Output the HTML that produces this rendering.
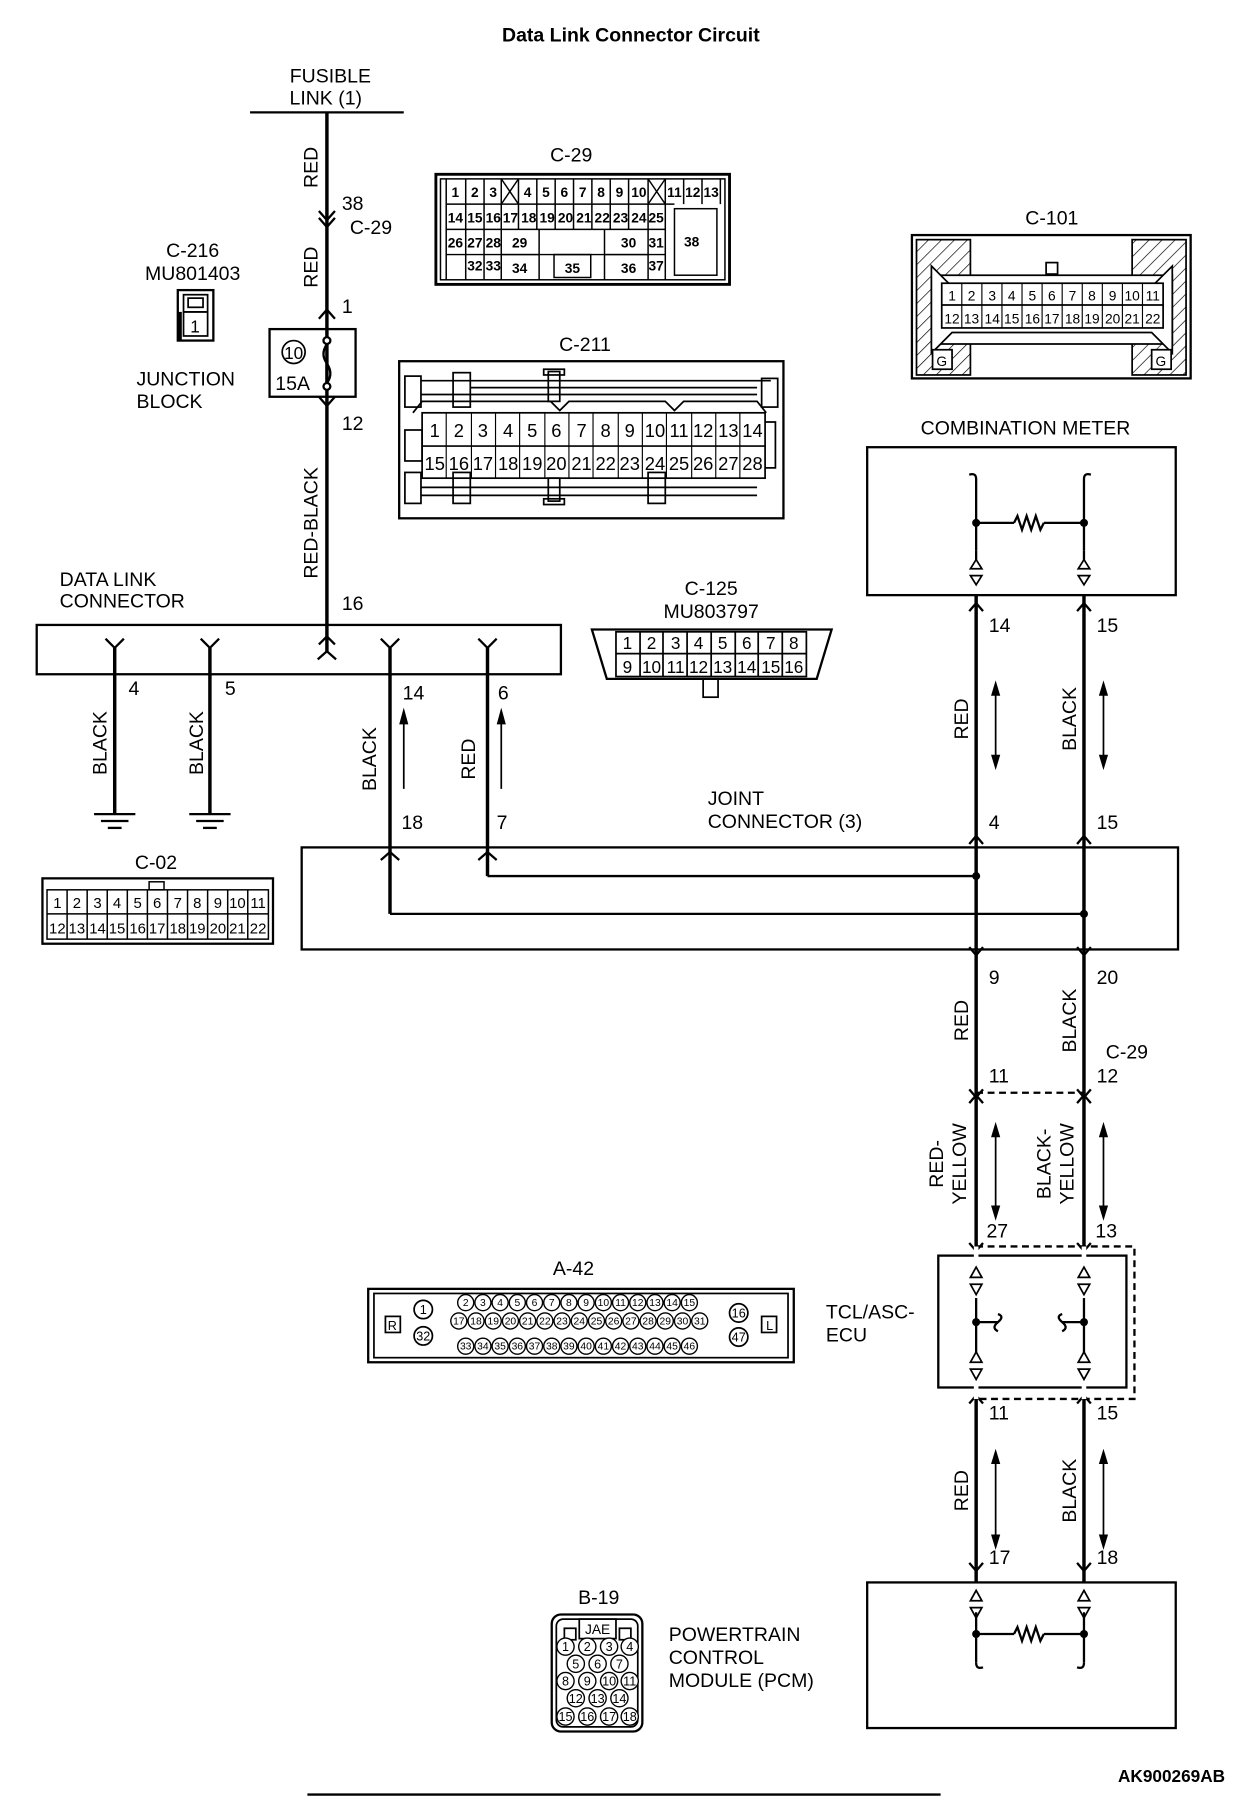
<!DOCTYPE html>
<html><head><meta charset="utf-8"><style>
html,body{margin:0;padding:0;background:#fff}
svg{display:block}
text{font-family:"Liberation Sans",sans-serif;fill:#000}
</style></head><body>
<svg width="1248" height="1798" viewBox="0 0 1088 1568" preserveAspectRatio="none" xmlns="http://www.w3.org/2000/svg">
<defs>
<pattern id="h" width="8" height="8" patternUnits="userSpaceOnUse" patternTransform="rotate(45)"><line x1="0" y1="0" x2="0" y2="8" stroke="#000" stroke-width="1.2"/></pattern>
</defs>
<g font-size="17">
<text x="550" y="36" text-anchor="middle" font-weight="bold" font-size="17">Data Link Connector Circuit</text>
<text x="288" y="72" text-anchor="middle">FUSIBLE</text>
<text x="284" y="91" text-anchor="middle">LINK (1)</text>
</g>
<g stroke="#000" fill="none" stroke-width="2">
<line x1="218" y1="98" x2="352" y2="98"/>
<line x1="285" y1="98" x2="285" y2="568" stroke-width="3"/>
<polyline points="278,184 285,192 292,184"/>
<polyline points="278,190 285,198 292,190"/>
<polyline points="278,278 285,270 292,278"/>
<polyline points="278,346 285,354 292,346"/>
<rect x="235" y="287" width="75" height="59"/>
<polyline points="278,562 285,555 292,562"/>
</g>
<!-- fuse symbol -->
<g stroke="#000" stroke-width="2" fill="#fff">
<circle cx="285" cy="297" r="3"/><circle cx="285" cy="337" r="3"/>
<path d="M285 300 q-6 9 0 17 q6 9 0 17" fill="none"/>
<circle cx="256" cy="307" r="10" fill="none" stroke-width="1.5"/>
</g>
<g font-size="17">
<text x="256" y="313" text-anchor="middle" font-size="15">10</text>
<text x="240" y="340" font-size="17">15A</text>
<text transform="translate(277,146) rotate(-90)" text-anchor="middle">RED</text>
<text x="298" y="183">38</text><text x="305" y="204">C-29</text>
<text transform="translate(277,233) rotate(-90)" text-anchor="middle">RED</text>
<text x="298" y="273">1</text>
<text x="298" y="375">12</text>
<text transform="translate(277,456) rotate(-90)" text-anchor="middle">RED-BLACK</text>
<text x="298" y="532">16</text>
<text x="168" y="224" text-anchor="middle">C-216</text>
<text x="168" y="244" text-anchor="middle">MU801403</text>
<text x="119" y="336">JUNCTION</text>
<text x="119" y="356">BLOCK</text>
</g>
<!-- C-216 icon -->
<g stroke="#000" fill="none" stroke-width="2">
<rect x="155" y="253" width="31" height="44"/>
<rect x="160" y="257" width="21" height="15" stroke-width="1.5"/>
<rect x="164" y="260" width="13" height="8" stroke-width="1.5"/>
<rect x="160" y="272" width="21" height="21" stroke-width="1.5"/>
<line x1="157" y1="272" x2="157" y2="297" stroke-width="3"/>
</g>
<text x="170" y="290" text-anchor="middle" font-size="15">1</text>

<!-- C-29 connector -->
<text x="498" y="141" text-anchor="middle" font-size="17">C-29</text>
<g stroke="#000" fill="none" stroke-width="1.3">
<rect x="380" y="152" width="256" height="96" stroke-width="2.5"/>
<rect x="384" y="156" width="248" height="88"/>
<line x1="389" y1="156" x2="389" y2="244"/>
<line x1="389" y1="178" x2="588" y2="178"/>
<line x1="389" y1="200" x2="580" y2="200"/>
<line x1="389" y1="222" x2="580" y2="222"/>
<line x1="406" y1="156" x2="406" y2="244"/><line x1="422" y1="156" x2="422" y2="244"/><line x1="437" y1="156" x2="437" y2="244"/>
<line x1="437" y1="156" x2="452" y2="178"/><line x1="452" y1="156" x2="437" y2="178"/>
<line x1="452" y1="156" x2="452" y2="200"/>
<line x1="468" y1="156" x2="468" y2="200"/><line x1="484" y1="156" x2="484" y2="200"/><line x1="500" y1="156" x2="500" y2="200"/><line x1="516" y1="156" x2="516" y2="200"/><line x1="532" y1="156" x2="532" y2="200"/><line x1="548" y1="156" x2="548" y2="200"/>
<line x1="565" y1="156" x2="565" y2="244"/>
<line x1="565" y1="156" x2="580" y2="178"/><line x1="580" y1="156" x2="565" y2="178"/>
<line x1="580" y1="156" x2="580" y2="244"/>
<line x1="596" y1="156" x2="596" y2="178"/><line x1="612" y1="156" x2="612" y2="178"/><line x1="628" y1="156" x2="628" y2="178"/>
<line x1="470" y1="200" x2="470" y2="244"/><line x1="527" y1="200" x2="527" y2="244"/>
<rect x="483" y="222" width="32" height="20"/>
<line x1="437" y1="222" x2="470" y2="222"/><line x1="527" y1="222" x2="565" y2="222"/>
<rect x="588" y="182" width="37" height="58"/>
</g>
<g font-size="12" font-weight="bold" text-anchor="middle">
<text x="397" y="172">1</text><text x="414" y="172">2</text><text x="430" y="172">3</text>
<text x="460" y="172">4</text><text x="476" y="172">5</text><text x="492" y="172">6</text><text x="508" y="172">7</text><text x="524" y="172">8</text><text x="540" y="172">9</text><text x="557" y="172">10</text>
<text x="588" y="172">11</text><text x="604" y="172">12</text><text x="620" y="172">13</text>
<text x="397" y="194">14</text><text x="414" y="194">15</text><text x="430" y="194">16</text>
<text x="445" y="194">17</text><text x="461" y="194">18</text><text x="477" y="194">19</text><text x="493" y="194">20</text><text x="509" y="194">21</text><text x="525" y="194">22</text><text x="541" y="194">23</text><text x="557" y="194">24</text><text x="572" y="194">25</text>
<text x="397" y="216">26</text><text x="414" y="216">27</text><text x="430" y="216">28</text><text x="453" y="216">29</text><text x="548" y="216">30</text><text x="572" y="216">31</text>
<text x="414" y="236">32</text><text x="430" y="236">33</text><text x="453" y="238">34</text><text x="499" y="238">35</text><text x="548" y="238">36</text><text x="572" y="236">37</text>
<text x="603" y="215">38</text>
</g>

<!-- C-101 -->
<text x="917" y="196" text-anchor="middle" font-size="17">C-101</text>
<g stroke="#000" stroke-width="1.5">
<rect x="795" y="205" width="243" height="125" fill="none" stroke-width="2"/>
<rect x="799" y="209" width="47" height="118" fill="url(#h)"/>
<rect x="987" y="209" width="47" height="118" fill="url(#h)"/>
<polygon points="812,240 1022,240 1022,300 812,300" fill="#fff"/>
<polygon points="812,232 830,250 1004,250 1022,232 1022,308 1004,290 830,290 812,308" fill="#fff"/>
<rect x="912" y="229" width="10" height="10" fill="#fff"/>
<rect x="821" y="247" width="193" height="39" fill="#fff"/>
<line x1="821" y1="266" x2="1014" y2="266"/>
<rect x="813" y="305" width="17" height="17" fill="#fff"/>
<rect x="1004" y="305" width="17" height="17" fill="#fff"/>
</g>
<g stroke="#000" stroke-width="1">
<line x1="838.5" y1="247" x2="838.5" y2="286"/><line x1="856" y1="247" x2="856" y2="286"/><line x1="873.5" y1="247" x2="873.5" y2="286"/><line x1="891" y1="247" x2="891" y2="286"/><line x1="908.5" y1="247" x2="908.5" y2="286"/><line x1="926" y1="247" x2="926" y2="286"/><line x1="943.5" y1="247" x2="943.5" y2="286"/><line x1="961" y1="247" x2="961" y2="286"/><line x1="978.5" y1="247" x2="978.5" y2="286"/><line x1="996" y1="247" x2="996" y2="286"/>
</g>
<g font-size="12" text-anchor="middle">
<text x="830" y="262">1</text><text x="847" y="262">2</text><text x="865" y="262">3</text><text x="882" y="262">4</text><text x="900" y="262">5</text><text x="917" y="262">6</text><text x="935" y="262">7</text><text x="952" y="262">8</text><text x="970" y="262">9</text><text x="987" y="262">10</text><text x="1005" y="262">11</text>
<text x="830" y="282">12</text><text x="847" y="282">13</text><text x="865" y="282">14</text><text x="882" y="282">15</text><text x="900" y="282">16</text><text x="917" y="282">17</text><text x="935" y="282">18</text><text x="952" y="282">19</text><text x="970" y="282">20</text><text x="987" y="282">21</text><text x="1005" y="282">22</text>
<text x="821" y="319">G</text><text x="1012" y="319">G</text>
</g>

<!-- C-211 -->
<text x="510" y="306" text-anchor="middle" font-size="17">C-211</text>
<g stroke="#000" stroke-width="1.5" fill="none">
<rect x="348" y="315" width="335" height="137" stroke-width="2"/>
<rect x="353" y="328" width="14" height="27"/><rect x="395" y="325" width="15" height="30"/>
<line x1="367" y1="332" x2="672" y2="332"/><line x1="367" y1="344" x2="660" y2="344"/><line x1="410" y1="338" x2="660" y2="338"/>
<polyline points="360,360 368,350 480,350 488,358 496,350 580,350 588,358 596,350 660,350 668,360"/>
<rect x="478" y="324" width="10" height="26"/><rect x="474" y="322" width="18" height="5"/>
<rect x="664" y="330" width="14" height="25"/>
<rect x="368" y="360" width="299" height="57" fill="#fff"/>
<line x1="368" y1="389" x2="667" y2="389"/>
<rect x="353" y="375" width="15" height="27"/>
<polyline points="667,368 676,368 676,408 667,408"/>
<rect x="353" y="412" width="14" height="27"/><rect x="395" y="412" width="15" height="27"/><rect x="565" y="412" width="15" height="27"/>
<line x1="367" y1="425" x2="660" y2="425"/><line x1="367" y1="432" x2="660" y2="432"/>
<rect x="478" y="417" width="10" height="20"/><rect x="474" y="435" width="18" height="5"/>
</g>
<g stroke="#000" stroke-width="1">
<line x1="389" y1="360" x2="389" y2="417"/><line x1="411" y1="360" x2="411" y2="417"/><line x1="432" y1="360" x2="432" y2="417"/><line x1="453" y1="360" x2="453" y2="417"/><line x1="475" y1="360" x2="475" y2="417"/><line x1="496" y1="360" x2="496" y2="417"/><line x1="517" y1="360" x2="517" y2="417"/><line x1="539" y1="360" x2="539" y2="417"/><line x1="560" y1="360" x2="560" y2="417"/><line x1="581" y1="360" x2="581" y2="417"/><line x1="603" y1="360" x2="603" y2="417"/><line x1="624" y1="360" x2="624" y2="417"/><line x1="645" y1="360" x2="645" y2="417"/>
</g>
<g font-size="16" text-anchor="middle">
<text x="379" y="381">1</text><text x="400" y="381">2</text><text x="421" y="381">3</text><text x="443" y="381">4</text><text x="464" y="381">5</text><text x="485" y="381">6</text><text x="507" y="381">7</text><text x="528" y="381">8</text><text x="549" y="381">9</text><text x="571" y="381">10</text><text x="592" y="381">11</text><text x="613" y="381">12</text><text x="635" y="381">13</text><text x="656" y="381">14</text>
<text x="379" y="410">15</text><text x="400" y="410">16</text><text x="421" y="410">17</text><text x="443" y="410">18</text><text x="464" y="410">19</text><text x="485" y="410">20</text><text x="507" y="410">21</text><text x="528" y="410">22</text><text x="549" y="410">23</text><text x="571" y="410">24</text><text x="592" y="410">25</text><text x="613" y="410">26</text><text x="635" y="410">27</text><text x="656" y="410">28</text>
</g>

<!-- Combination meter -->
<text x="894" y="379" text-anchor="middle" font-size="17">COMBINATION METER</text>
<g stroke="#000" fill="none" stroke-width="2">
<rect x="756" y="390" width="269" height="129"/>
<path d="M845 414 q6 -2 6 4 V480"/><path d="M951 414 q-6 -2 -6 4 V480"/>
<line x1="851" y1="456" x2="884" y2="456"/><polyline points="884,456 887,450 891,462 895,450 899,462 903,450 907,462 910,456"/><line x1="910" y1="456" x2="945" y2="456"/>
<polygon points="846,496 856,496 851,488" stroke-width="1.5"/><polygon points="846,502 856,502 851,510" stroke-width="1.5"/>
<polygon points="940,496 950,496 945,488" stroke-width="1.5"/><polygon points="940,502 950,502 945,510" stroke-width="1.5"/>
<line x1="851" y1="480" x2="851" y2="488"/><line x1="945" y1="480" x2="945" y2="488"/>
</g>
<circle cx="851" cy="456" r="3.5"/><circle cx="945" cy="456" r="3.5"/>

<!-- right wires -->
<g stroke="#000" fill="none" stroke-width="3">
<line x1="851" y1="519" x2="851" y2="1380"/>
<line x1="945" y1="519" x2="945" y2="1380"/>
</g>
<g stroke="#000" fill="none" stroke-width="2">
<polyline points="845,533 851,526 857,533"/><polyline points="939,533 945,526 951,533"/>
<polyline points="845,736 851,729 857,736"/><polyline points="939,736 945,729 951,736"/>
<polyline points="845,826 851,833 857,826"/><polyline points="939,826 945,833 951,826"/>
<polyline points="845,950 851,957 857,950"/><polyline points="939,950 945,957 951,950"/>
<polyline points="845,962 851,955 857,962"/><polyline points="939,962 945,955 951,962"/>
<polyline points="845,1084 851,1091 857,1084"/><polyline points="939,1084 945,1091 951,1084"/>
<polyline points="845,1224 851,1217 857,1224"/><polyline points="939,1224 945,1217 951,1224"/>
<polyline points="845,1363 851,1370 857,1363"/><polyline points="939,1363 945,1370 951,1363"/>
<line x1="851" y1="953" x2="945" y2="953" stroke-dasharray="6,4"/>
</g>
<!-- double arrows -->
<g stroke="#000" stroke-width="1.5" fill="#000">
<line x1="868" y1="600" x2="868" y2="665"/><polygon points="865,606 871,606 868,596"/><polygon points="865,659 871,659 868,669"/>
<line x1="962" y1="600" x2="962" y2="665"/><polygon points="959,606 965,606 962,596"/><polygon points="959,659 965,659 962,669"/>
<line x1="868" y1="985" x2="868" y2="1058"/><polygon points="865,991 871,991 868,981"/><polygon points="865,1052 871,1052 868,1062"/>
<line x1="962" y1="985" x2="962" y2="1058"/><polygon points="959,991 965,991 962,981"/><polygon points="959,1052 965,1052 962,1062"/>
<line x1="868" y1="1270" x2="868" y2="1345"/><polygon points="865,1276 871,1276 868,1266"/><polygon points="865,1339 871,1339 868,1349"/>
<line x1="962" y1="1270" x2="962" y2="1345"/><polygon points="959,1276 965,1276 962,1266"/><polygon points="959,1339 965,1339 962,1349"/>
<line x1="352" y1="625" x2="352" y2="688"/><polygon points="349,631 355,631 352,620"/>
<line x1="437" y1="625" x2="437" y2="688"/><polygon points="434,631 440,631 437,620"/>
</g>
<g font-size="17">
<text x="862" y="551">14</text><text x="956" y="551">15</text>
<text transform="translate(844,627) rotate(-90)" text-anchor="middle">RED</text>
<text transform="translate(938,627) rotate(-90)" text-anchor="middle">BLACK</text>
<text x="862" y="723">4</text><text x="956" y="723">15</text>
<text x="862" y="858">9</text><text x="956" y="858">20</text>
<text transform="translate(844,890) rotate(-90)" text-anchor="middle">RED</text>
<text transform="translate(938,890) rotate(-90)" text-anchor="middle">BLACK</text>
<text x="964" y="923">C-29</text>
<text x="862" y="944">11</text><text x="956" y="944">12</text>
<text transform="translate(822,1015) rotate(-90)" text-anchor="middle">RED-</text>
<text transform="translate(842,1015) rotate(-90)" text-anchor="middle">YELLOW</text>
<text transform="translate(916,1015) rotate(-90)" text-anchor="middle">BLACK-</text>
<text transform="translate(936,1015) rotate(-90)" text-anchor="middle">YELLOW</text>
<text x="860" y="1079">27</text><text x="955" y="1079">13</text>
<text x="720" y="1150">TCL/ASC-</text><text x="720" y="1170">ECU</text>
<text x="862" y="1238">11</text><text x="956" y="1238">15</text>
<text transform="translate(844,1300) rotate(-90)" text-anchor="middle">RED</text>
<text transform="translate(938,1300) rotate(-90)" text-anchor="middle">BLACK</text>
<text x="862" y="1364">17</text><text x="956" y="1364">18</text>
<text x="583" y="1431">POWERTRAIN</text><text x="583" y="1451">CONTROL</text><text x="583" y="1471">MODULE (PCM)</text>
</g>
<!-- TCL ECU -->
<g stroke="#000" fill="none" stroke-width="2">
<rect x="818" y="1095" width="164" height="115" fill="#fff"/>
<polyline points="851,1087 989,1087 989,1220 851,1220" stroke-dasharray="6,4"/>
<line x1="851" y1="1087" x2="851" y2="1220" stroke="#fff" stroke-width="4"/>
<line x1="945" y1="1087" x2="945" y2="1220" stroke="#fff" stroke-width="4"/>
<line x1="851" y1="1132" x2="851" y2="1180"/><line x1="945" y1="1132" x2="945" y2="1180"/>
<line x1="851" y1="1153" x2="870" y2="1153"/><path d="M870 1146 q6 2 0 7 q-6 5 0 8"/>
<line x1="945" y1="1153" x2="926" y2="1153"/><path d="M926 1146 q-6 2 0 7 q6 5 0 8"/>
<g stroke-width="1.5">
<polygon points="846,1114 856,1114 851,1105"/><polygon points="846,1120 856,1120 851,1129"/>
<polygon points="940,1114 950,1114 945,1105"/><polygon points="940,1120 950,1120 945,1129"/>
<polygon points="846,1188 856,1188 851,1179"/><polygon points="846,1194 856,1194 851,1203"/>
<polygon points="940,1188 950,1188 945,1179"/><polygon points="940,1194 950,1194 945,1203"/>
</g>
</g>
<circle cx="851" cy="1153" r="3.5"/><circle cx="945" cy="1153" r="3.5"/>
<!-- PCM -->
<g stroke="#000" fill="none" stroke-width="2">
<rect x="756" y="1380" width="269" height="127" fill="#fff"/>
<line x1="851" y1="1406" x2="851" y2="1450"/><line x1="945" y1="1406" x2="945" y2="1450"/>
<path d="M851 1450 q0 6 6 4"/><path d="M945 1450 q0 6 -6 4"/>
<line x1="851" y1="1425" x2="884" y2="1425"/><polyline points="884,1425 887,1419 891,1431 895,1419 899,1431 903,1419 907,1431 910,1425"/><line x1="910" y1="1425" x2="945" y2="1425"/>
<g stroke-width="1.5">
<polygon points="846,1396 856,1396 851,1387"/><polygon points="846,1402 856,1402 851,1411"/>
<polygon points="940,1396 950,1396 945,1387"/><polygon points="940,1402 950,1402 945,1411"/>
</g>
</g>
<circle cx="851" cy="1425" r="3.5"/><circle cx="945" cy="1425" r="3.5"/>

<!-- DLC -->
<g font-size="17"><text x="52" y="511">DATA LINK</text><text x="52" y="530">CONNECTOR</text></g>
<g stroke="#000" fill="none" stroke-width="2">
<rect x="32" y="545" width="457" height="43"/>
<polyline points="92,557 100,565 108,557"/><polyline points="175,557 183,565 191,557"/>
<polyline points="332,557 340,565 348,557"/><polyline points="417,557 425,565 433,557"/>
<polyline points="277,575 285,568 293,575"/>
</g>
<g stroke="#000" fill="none" stroke-width="3">
<line x1="100" y1="565" x2="100" y2="710"/><line x1="183" y1="565" x2="183" y2="710"/>
<line x1="340" y1="565" x2="340" y2="797"/><line x1="425" y1="565" x2="425" y2="764"/>
</g>
<g stroke="#000" stroke-width="2">
<line x1="82" y1="710" x2="118" y2="710"/><line x1="88" y1="716" x2="112" y2="716"/><line x1="94" y1="722" x2="106" y2="722"/>
<line x1="165" y1="710" x2="201" y2="710"/><line x1="171" y1="716" x2="195" y2="716"/><line x1="177" y1="722" x2="189" y2="722"/>
</g>
<g font-size="17">
<text x="112" y="606">4</text><text x="196" y="606">5</text><text x="351" y="610">14</text><text x="434" y="610">6</text>
<text transform="translate(93,648) rotate(-90)" text-anchor="middle">BLACK</text>
<text transform="translate(177,648) rotate(-90)" text-anchor="middle">BLACK</text>
<text transform="translate(328,662) rotate(-90)" text-anchor="middle">BLACK</text>
<text transform="translate(414,662) rotate(-90)" text-anchor="middle">RED</text>
<text x="350" y="723">18</text><text x="433" y="723">7</text>
<text x="617" y="702">JOINT</text><text x="617" y="722">CONNECTOR (3)</text>
</g>
<!-- joint connector -->
<g stroke="#000" fill="none" stroke-width="2">
<rect x="263" y="739" width="764" height="89"/>
<polyline points="332,750 340,743 348,750"/><polyline points="417,750 425,743 433,750"/>
<line x1="340" y1="797" x2="945" y2="797"/><line x1="425" y1="764" x2="851" y2="764"/>
</g>
<circle cx="851" cy="764" r="3.5"/><circle cx="945" cy="797" r="3.5"/>

<!-- C-125 -->
<g font-size="17" text-anchor="middle"><text x="620" y="519">C-125</text><text x="620" y="539">MU803797</text></g>
<g stroke="#000" fill="none" stroke-width="1.5">
<path d="M516 549 L725 549 L712 592 L529 592 Z" stroke-width="2"/>
<rect x="613" y="592" width="13" height="16"/>
<rect x="537" y="551" width="166" height="39"/>
<line x1="537" y1="570" x2="703" y2="570"/>
<line x1="558" y1="551" x2="558" y2="590"/><line x1="578" y1="551" x2="578" y2="590"/><line x1="599" y1="551" x2="599" y2="590"/><line x1="620" y1="551" x2="620" y2="590"/><line x1="641" y1="551" x2="641" y2="590"/><line x1="661" y1="551" x2="661" y2="590"/><line x1="682" y1="551" x2="682" y2="590"/>
</g>
<g font-size="15" text-anchor="middle">
<text x="547" y="566">1</text><text x="568" y="566">2</text><text x="589" y="566">3</text><text x="609" y="566">4</text><text x="630" y="566">5</text><text x="651" y="566">6</text><text x="672" y="566">7</text><text x="692" y="566">8</text>
<text x="547" y="587">9</text><text x="568" y="587">10</text><text x="589" y="587">11</text><text x="609" y="587">12</text><text x="630" y="587">13</text><text x="651" y="587">14</text><text x="672" y="587">15</text><text x="692" y="587">16</text>
</g>

<!-- C-02 -->
<text x="136" y="758" text-anchor="middle" font-size="17">C-02</text>
<g stroke="#000" fill="none" stroke-width="1.3">
<rect x="37" y="766" width="201" height="57" stroke-width="2"/>
<rect x="41" y="776" width="193" height="43"/>
<line x1="41" y1="797" x2="234" y2="797"/>
<rect x="130" y="769" width="13" height="7"/>
<line x1="58.5" y1="776" x2="58.5" y2="819"/><line x1="76" y1="776" x2="76" y2="819"/><line x1="93.5" y1="776" x2="93.5" y2="819"/><line x1="111" y1="776" x2="111" y2="819"/><line x1="128.5" y1="776" x2="128.5" y2="819"/><line x1="146" y1="776" x2="146" y2="819"/><line x1="163.5" y1="776" x2="163.5" y2="819"/><line x1="181" y1="776" x2="181" y2="819"/><line x1="198.5" y1="776" x2="198.5" y2="819"/><line x1="216" y1="776" x2="216" y2="819"/>
</g>
<g font-size="13" text-anchor="middle">
<text x="50" y="792">1</text><text x="67" y="792">2</text><text x="85" y="792">3</text><text x="102" y="792">4</text><text x="120" y="792">5</text><text x="137" y="792">6</text><text x="155" y="792">7</text><text x="172" y="792">8</text><text x="190" y="792">9</text><text x="207" y="792">10</text><text x="225" y="792">11</text>
<text x="50" y="814">12</text><text x="67" y="814">13</text><text x="85" y="814">14</text><text x="102" y="814">15</text><text x="120" y="814">16</text><text x="137" y="814">17</text><text x="155" y="814">18</text><text x="172" y="814">19</text><text x="190" y="814">20</text><text x="207" y="814">21</text><text x="225" y="814">22</text>
</g>

<!-- A-42 -->
<text x="500" y="1112" text-anchor="middle" font-size="17">A-42</text>
<g stroke="#000" fill="none" stroke-width="1.5">
<rect x="321" y="1124" width="371" height="64" stroke-width="2"/>
<rect x="326" y="1128" width="361" height="56"/>
<rect x="336" y="1148" width="13" height="14"/><rect x="664" y="1148" width="13" height="14"/>
<circle cx="369" cy="1142" r="8"/><circle cx="369" cy="1165" r="8"/><circle cx="644" cy="1145" r="8"/><circle cx="644" cy="1166" r="8"/>
</g>
<g font-size="11" text-anchor="middle">
<text x="342" y="1160">R</text><text x="671" y="1160">L</text>
<text x="369" y="1146">1</text><text x="369" y="1169">32</text><text x="644" y="1149">16</text><text x="644" y="1170">47</text>
</g>
<g stroke="#000" fill="#fff" stroke-width="1.2">
<circle cx="406" cy="1136" r="7"/><circle cx="421" cy="1136" r="7"/><circle cx="436" cy="1136" r="7"/><circle cx="451" cy="1136" r="7"/><circle cx="466" cy="1136" r="7"/><circle cx="481" cy="1136" r="7"/><circle cx="496" cy="1136" r="7"/><circle cx="511" cy="1136" r="7"/><circle cx="526" cy="1136" r="7"/><circle cx="541" cy="1136" r="7"/><circle cx="556" cy="1136" r="7"/><circle cx="571" cy="1136" r="7"/><circle cx="586" cy="1136" r="7"/><circle cx="601" cy="1136" r="7"/>
<circle cx="400" cy="1152" r="7"/><circle cx="415" cy="1152" r="7"/><circle cx="430" cy="1152" r="7"/><circle cx="445" cy="1152" r="7"/><circle cx="460" cy="1152" r="7"/><circle cx="475" cy="1152" r="7"/><circle cx="490" cy="1152" r="7"/><circle cx="505" cy="1152" r="7"/><circle cx="520" cy="1152" r="7"/><circle cx="535" cy="1152" r="7"/><circle cx="550" cy="1152" r="7"/><circle cx="565" cy="1152" r="7"/><circle cx="580" cy="1152" r="7"/><circle cx="595" cy="1152" r="7"/><circle cx="610" cy="1152" r="7"/>
<circle cx="406" cy="1174" r="7"/><circle cx="421" cy="1174" r="7"/><circle cx="436" cy="1174" r="7"/><circle cx="451" cy="1174" r="7"/><circle cx="466" cy="1174" r="7"/><circle cx="481" cy="1174" r="7"/><circle cx="496" cy="1174" r="7"/><circle cx="511" cy="1174" r="7"/><circle cx="526" cy="1174" r="7"/><circle cx="541" cy="1174" r="7"/><circle cx="556" cy="1174" r="7"/><circle cx="571" cy="1174" r="7"/><circle cx="586" cy="1174" r="7"/><circle cx="601" cy="1174" r="7"/>
</g>
<g font-size="9" text-anchor="middle">
<text x="406" y="1139">2</text><text x="421" y="1139">3</text><text x="436" y="1139">4</text><text x="451" y="1139">5</text><text x="466" y="1139">6</text><text x="481" y="1139">7</text><text x="496" y="1139">8</text><text x="511" y="1139">9</text><text x="526" y="1139">10</text><text x="541" y="1139">11</text><text x="556" y="1139">12</text><text x="571" y="1139">13</text><text x="586" y="1139">14</text><text x="601" y="1139">15</text>
<text x="400" y="1155">17</text><text x="415" y="1155">18</text><text x="430" y="1155">19</text><text x="445" y="1155">20</text><text x="460" y="1155">21</text><text x="475" y="1155">22</text><text x="490" y="1155">23</text><text x="505" y="1155">24</text><text x="520" y="1155">25</text><text x="535" y="1155">26</text><text x="550" y="1155">27</text><text x="565" y="1155">28</text><text x="580" y="1155">29</text><text x="595" y="1155">30</text><text x="610" y="1155">31</text>
<text x="406" y="1177">33</text><text x="421" y="1177">34</text><text x="436" y="1177">35</text><text x="451" y="1177">36</text><text x="466" y="1177">37</text><text x="481" y="1177">38</text><text x="496" y="1177">39</text><text x="511" y="1177">40</text><text x="526" y="1177">41</text><text x="541" y="1177">42</text><text x="556" y="1177">43</text><text x="571" y="1177">44</text><text x="586" y="1177">45</text><text x="601" y="1177">46</text>
</g>

<!-- B-19 -->
<text x="522" y="1399" text-anchor="middle" font-size="17">B-19</text>
<g stroke="#000" fill="none" stroke-width="1.5">
<rect x="481" y="1408" width="79" height="102" rx="8" stroke-width="2"/>
<rect x="485" y="1412" width="71" height="94" rx="6"/>
<rect x="505" y="1412" width="32" height="17"/>
<rect x="492" y="1420" width="10" height="10"/><rect x="540" y="1420" width="10" height="10"/>
</g>
<g stroke="#000" fill="#fff" stroke-width="1.2">
<circle cx="493" cy="1436" r="7.5"/><circle cx="512" cy="1436" r="7.5"/><circle cx="531" cy="1436" r="7.5"/><circle cx="549" cy="1436" r="7.5"/>
<circle cx="502" cy="1451" r="7.5"/><circle cx="521" cy="1451" r="7.5"/><circle cx="540" cy="1451" r="7.5"/>
<circle cx="493" cy="1466" r="7.5"/><circle cx="512" cy="1466" r="7.5"/><circle cx="531" cy="1466" r="7.5"/><circle cx="549" cy="1466" r="7.5"/>
<circle cx="502" cy="1481" r="7.5"/><circle cx="521" cy="1481" r="7.5"/><circle cx="540" cy="1481" r="7.5"/>
<circle cx="493" cy="1497" r="7.5"/><circle cx="512" cy="1497" r="7.5"/><circle cx="531" cy="1497" r="7.5"/><circle cx="549" cy="1497" r="7.5"/>
</g>
<g font-size="11" text-anchor="middle">
<text x="521" y="1425" font-size="12">JAE</text>
<text x="493" y="1440">1</text><text x="512" y="1440">2</text><text x="531" y="1440">3</text><text x="549" y="1440">4</text>
<text x="502" y="1455">5</text><text x="521" y="1455">6</text><text x="540" y="1455">7</text>
<text x="493" y="1470">8</text><text x="512" y="1470">9</text><text x="531" y="1470">10</text><text x="549" y="1470">11</text>
<text x="502" y="1485">12</text><text x="521" y="1485">13</text><text x="540" y="1485">14</text>
<text x="493" y="1501">15</text><text x="512" y="1501">16</text><text x="531" y="1501">17</text><text x="549" y="1501">18</text>
</g>

<text x="1068" y="1554" text-anchor="end" font-size="15" font-weight="bold">AK900269AB</text>
<line x1="268" y1="1565" x2="820" y2="1565" stroke="#000" stroke-width="2"/>
</svg>
</body></html>
